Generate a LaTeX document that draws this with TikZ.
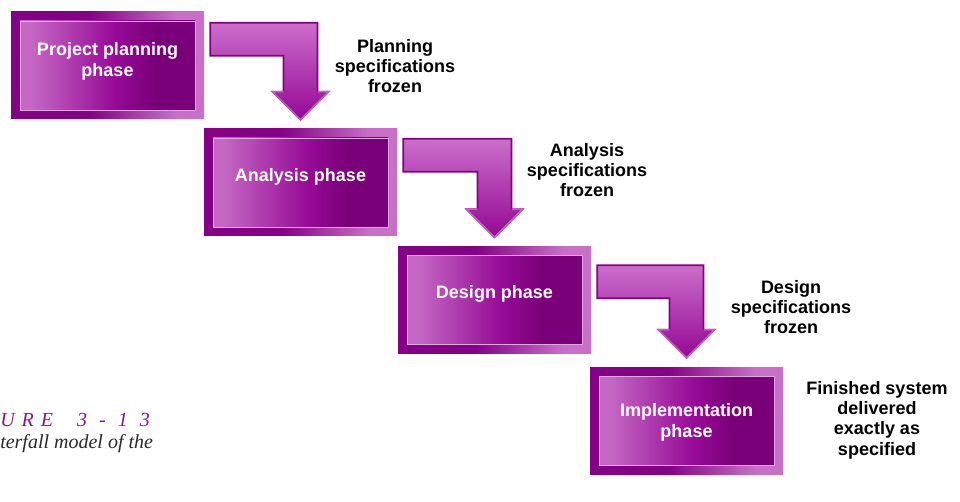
\documentclass[tikz,border=0pt]{standalone}
\usepackage{fontspec}
\setmainfont{Liberation Sans}
\newfontfamily\capfont{Liberation Serif}
\usetikzlibrary{calc}

\definecolor{framedark}{RGB}{132,0,132}
\definecolor{framelight}{RGB}{200,112,200}
\definecolor{innerlight}{RGB}{196,104,196}
\definecolor{innermid}{RGB}{150,10,150}
\definecolor{innerdark}{RGB}{122,0,122}
\definecolor{arrowtop}{RGB}{204,110,204}
\definecolor{arrowbot}{RGB}{148,8,148}
\definecolor{headedge}{RGB}{196,96,196}
\definecolor{capcolor}{RGB}{140,20,140}
\definecolor{capgray}{RGB}{40,40,40}

\pgfdeclarehorizontalshading{outerframe}{100bp}{color(0bp)=(framedark); color(25bp)=(framedark); color(45bp)=(framedark); color(68bp)=(framelight); color(75bp)=(framelight); color(100bp)=(framelight)}
\pgfdeclarehorizontalshading{innerfill}{100bp}{color(0bp)=(innerlight); color(25bp)=(innerlight); color(30bp)=(innerlight); color(52bp)=(innermid); color(62bp)=(innerdark); color(75bp)=(innerdark); color(100bp)=(innerdark)}

\tikzset{
    phase/.style={minimum width=144.75pt, minimum height=80.25pt, inner sep=0pt,
        shading=outerframe, text=white, align=center,
        font=\bfseries\fontsize{13.5}{15.5}\selectfont,
        path picture={\shade[shading=innerfill, draw=framelight!60!white, line width=0.5pt]
            ($(path picture bounding box.south west)+(6.75pt,6.75pt)$) rectangle
            ($(path picture bounding box.north east)+(-6.75pt,-6.75pt)$);}},
    spec/.style={align=center, text=black, font=\bfseries\fontsize{13.5}{15.2}\selectfont},
    flow/.style={top color=arrowtop, bottom color=arrowbot, draw=framedark, line width=1.2pt, line join=miter},
    headline/.style={draw=headedge, line width=1.2pt, line join=miter}
}

\begin{document}
\begin{tikzpicture}[x=0.75pt, y=-0.75pt]
    \useasboundingbox (0,0) rectangle (960,502);

    \node[phase, text depth=8.8pt] (plan) at (107.5,65.5) {Project planning\\phase};
    \node[phase, text depth=11.8pt] (analysis) at (300.5,182.5) {Analysis phase};
    \node[phase, text depth=11.8pt] (design) at (494.5,300) {Design phase};
    \node[phase, text depth=0pt] (impl) at (686.5,420.5) {Implementation\\phase};

    % bent arrows between the phases
    \foreach \a/\b/\d in {plan/analysis/11, analysis/design/10, design/impl/19}{
        \coordinate (s) at ($(\a.north east)+(6,\d)$);
        \coordinate (t) at ($(\b.north)+(0,-9)$);
        \shade[flow] (s) -- ($(s -| t)+(17,0)$) -- ($(t)+(17,-28)$) -- ($(t)+(28,-28)$)
            -- (t) -- ($(t)+(-28,-28)$) -- ($(t)+(-17,-28)$)
            -- ($(s -| t)+(-17,33)$) -- ($(s)+(0,33)$) -- cycle;
        \draw[headline] ($(t)+(17,-28)$) -- ($(t)+(28,-28)$) -- (t)
            -- ($(t)+(-28,-28)$) -- ($(t)+(-17,-28)$);
    }

    \node[spec] (froz1) at (395,66) {Planning\\specifications\\frozen};
    \node[spec] (froz2) at (587,170) {Analysis\\specifications\\frozen};
    \node[spec] (froz3) at (791,307) {Design\\specifications\\frozen};
    \node[spec] (done) at (877,420) {Finished system\\delivered\\exactly as\\specified};

    \node[anchor=base west, inner sep=0pt, text=capcolor,
        font=\capfont\itshape\fontsize{15}{17}\selectfont] (fignum) at (0,426)
        {\addfontfeature{LetterSpace=35}URE\ \ 3 - 1 3};
    \node[anchor=base west, inner sep=0pt, text=capgray,
        font=\capfont\itshape\fontsize{15}{17}\selectfont] (figtext) at (0,448)
        {terfall model of the};
\end{tikzpicture}
\end{document}
